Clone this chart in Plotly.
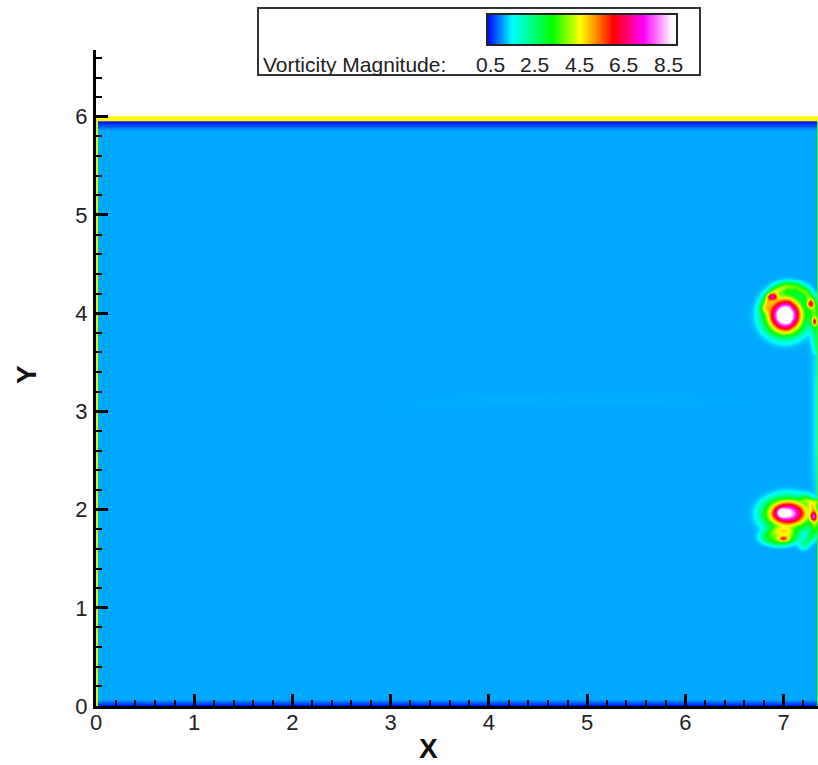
import numpy as np
import plotly.graph_objects as go

# ---- colour map (Vorticity Magnitude) ----
legend_ticks = [0.5, 2.5, 4.5, 6.5, 8.5]
legend_range = [0.365, 8.9]
color_levels = [0.365, 1.49, 3.29, 4.55, 5.3, 6.03, 7.38, 8.68, 8.9]
color_values = ["rgb(0,0,255)", "rgb(0,255,255)", "rgb(0,255,0)", "rgb(255,255,0)",
                "rgb(255,128,0)", "rgb(255,0,0)", "rgb(255,0,255)",
                "rgb(255,255,255)", "rgb(255,255,255)"]

# ---- flow domain and wall levels ----
x_extent = [0.0, 7.35]
y_extent = [0.0, 6.0]
grid_step = 0.01
background_level = 1.106
wall_low_level = 0.365
top_wall_level = 4.6
left_wall_level = 4.3
right_edge_level = 3.6

# ---- vortex blobs: centre, amplitude, radii, profile exponent ----
blob_x = [7.01, 7.01, 6.88, 7.27, 7.31, 7.04, 6.97, 7.04, 6.96, 6.99, 7.30, 7.33]
blob_y = [3.985, 3.985, 4.17, 4.10, 3.92, 1.965, 1.97, 1.96, 1.73, 1.71, 1.93, 2.08]
blob_amp = [7.0, 2.8, 2.8, 2.8, 3.0, 5.2, 2.5, 2.6, 2.5, 2.2, 3.0, 2.0]
blob_sx = [0.13, 0.25, 0.045, 0.035, 0.025, 0.16, 0.045, 0.28, 0.19, 0.05, 0.03, 0.025]
blob_sy = [0.13, 0.25, 0.03, 0.04, 0.04, 0.10, 0.045, 0.2, 0.09, 0.025, 0.04, 0.03]
blob_pow = [2, 4, 2, 2, 2, 2, 2, 4, 4, 2, 2, 2]

# ---- shear-layer filaments (polylines with strength along the path) ----
arc_top_x = [6.80, 6.84, 6.92, 7.02, 7.13, 7.22, 7.28, 7.31, 7.32, 7.33, 7.34]
arc_top_y = [4.06, 4.16, 4.24, 4.28, 4.27, 4.22, 4.14, 4.03, 3.92, 3.80, 3.65]
arc_top_amp = [1.6, 2.1, 2.3, 2.3, 2.3, 2.4, 2.4, 2.4, 2.1, 1.5, 0.8]
arc_top_width = 0.05

arc_bot_x = [7.22, 7.28, 7.31, 7.32, 7.31, 7.27, 7.20]
arc_bot_y = [2.12, 2.08, 2.00, 1.90, 1.80, 1.72, 1.65]
arc_bot_amp = [1.6, 2.3, 2.5, 2.5, 2.1, 1.6, 1.1]
arc_bot_width = 0.045

edge_glow_x = [7.35, 7.35, 7.35, 7.35]
edge_glow_y = [3.75, 3.3, 2.6, 2.15]
edge_glow_amp = [0.2, 0.4, 0.4, 0.2]
edge_glow_width = 0.06

streak_x = [2.5, 4.0, 5.5, 7.0]
streak_y = [3.0, 3.12, 3.15, 3.05]
streak_amp = [0.0, 0.03, 0.03, 0.0]
streak_width = 0.08


def polyline_field(X, Y, px, py, pa, w):
    out = np.zeros_like(X)
    for i in range(len(px) - 1):
        x0, y0, x1, y1 = px[i], py[i], px[i + 1], py[i + 1]
        vx, vy = x1 - x0, y1 - y0
        L2 = vx * vx + vy * vy
        t = np.clip(((X - x0) * vx + (Y - y0) * vy) / L2, 0, 1)
        d2 = (X - (x0 + t * vx)) ** 2 + (Y - (y0 + t * vy)) ** 2
        amp = pa[i] + t * (pa[i + 1] - pa[i])
        out = np.maximum(out, amp * np.exp(-d2 / w ** 2))
    return out


xs = np.round(np.arange(x_extent[0], x_extent[1] + grid_step / 2, grid_step), 4)
ys = np.round(np.arange(y_extent[0], y_extent[1] + grid_step / 2, grid_step), 4)
X, Y = np.meshgrid(xs, ys)

Z = np.full_like(X, background_level)
for bx, by, ba, sx, sy, p in zip(blob_x, blob_y, blob_amp, blob_sx, blob_sy, blob_pow):
    r2 = ((X - bx) / sx) ** 2 + ((Y - by) / sy) ** 2
    Z += ba * np.exp(-r2 ** (p / 2))
Z += polyline_field(X, Y, arc_top_x, arc_top_y, arc_top_amp, arc_top_width)
Z += polyline_field(X, Y, arc_bot_x, arc_bot_y, arc_bot_amp, arc_bot_width)
Z += polyline_field(X, Y, edge_glow_x, edge_glow_y, edge_glow_amp, edge_glow_width)
Z += polyline_field(X, Y, streak_x, streak_y, streak_amp, streak_width)

# boundary layers
bottom = Y < 0.07
Z[bottom] = np.minimum(Z[bottom], wall_low_level + (background_level - wall_low_level) * (Y[bottom] / 0.07))
upper = (Y > 5.86) & (Y < 5.955)
Z[upper] = wall_low_level + (background_level - wall_low_level) * ((5.955 - Y[upper]) / 0.095)
Z[X >= 7.335] = np.maximum(Z[X >= 7.335], right_edge_level)
Z[X <= 0.015] = left_wall_level
Z[Y >= 5.955] = top_wall_level
Z = np.round(Z, 3)

span = legend_range[1] - legend_range[0]
colorscale = [[(v - legend_range[0]) / span, c] for v, c in zip(color_levels, color_values)]

fig = go.Figure()
fig.add_trace(go.Heatmap(
    x=xs, y=ys, z=Z, colorscale=colorscale, zmin=legend_range[0], zmax=legend_range[1],
    zsmooth="best", showscale=False, hoverinfo="skip", xaxis="x", yaxis="y"))

# legend colour bar
bar_vals = np.linspace(legend_range[0], legend_range[1], 400)
fig.add_trace(go.Heatmap(
    x=bar_vals, y=[0.25, 0.75], z=[bar_vals, bar_vals], colorscale=colorscale,
    zmin=legend_range[0], zmax=legend_range[1], zsmooth="best", showscale=False,
    hoverinfo="skip", xaxis="x2", yaxis="y2"))

W, H = 818, 765
ml, mr, mt, mb = 96, 0, 0, 59
pw, ph = W - ml - mr, H - mt - mb


def px_x(p):
    return (p - ml) / pw


def px_y(p):
    return (H - mb - p) / ph


tick_font = dict(family="Liberation Sans, Arial, sans-serif", size=22, color="#222")
axis_common = dict(
    showline=True, linewidth=3, linecolor="black", mirror=False, showgrid=False, zeroline=False,
    ticks="inside", ticklen=12, tickwidth=3, tickcolor="black", tickfont=tick_font,
    minor=dict(ticks="inside", dtick=0.2, ticklen=6, tickwidth=2, tickcolor="black", showgrid=False),
)

fig.update_layout(
    width=W, height=H, margin=dict(l=ml, r=mr, t=mt, b=mb),
    paper_bgcolor="white", plot_bgcolor="rgba(0,0,0,0)", showlegend=False,
    xaxis=dict(range=[0, 7.35], domain=[0, 1], tickvals=list(range(0, 8)), anchor="y",
               ticklabelstandoff=-5, **axis_common),
    yaxis=dict(range=[0, 6.68], domain=[0, px_y(50)], tickvals=list(range(0, 7)), anchor="x",
               ticklabelstandoff=1, **axis_common),
    xaxis2=dict(domain=[px_x(487), px_x(677)], range=legend_range, anchor="y2",
                visible=False, fixedrange=True),
    yaxis2=dict(domain=[px_y(45), px_y(14)], range=[0, 1], anchor="x2",
                visible=False, fixedrange=True),
)

# legend frame and bar outline
fig.add_shape(type="rect", xref="paper", yref="paper",
              x0=px_x(258), x1=px_x(700), y0=px_y(75), y1=px_y(8),
              line=dict(color="#333", width=2), layer="above")
fig.add_shape(type="rect", xref="x2 domain", yref="y2 domain", x0=0, x1=1, y0=0, y1=1,
              line=dict(color="#222", width=2), layer="above")

legend_font = dict(family="Liberation Sans, Arial, sans-serif", size=21, color="#222")
fig.add_annotation(text="Vorticity Magnitude:", xref="paper", yref="paper",
                   x=px_x(261), y=px_y(64), xanchor="left", yanchor="middle",
                   showarrow=False, font=legend_font)
for t in legend_ticks:
    fig.add_annotation(text=f"{t:.1f}", xref="x2", yref="paper", x=t, y=px_y(64),
                       xanchor="center", yanchor="middle", showarrow=False, font=legend_font)

title_font = dict(family="Liberation Sans, Arial, sans-serif", size=28, color="#111")
fig.add_annotation(text="<b>X</b>", xref="paper", yref="paper", x=px_x(428), y=px_y(749),
                   xanchor="center", yanchor="middle", showarrow=False, font=title_font)
fig.add_annotation(text="<b>Y</b>", xref="paper", yref="paper", x=px_x(26), y=px_y(375),
                   xanchor="center", yanchor="middle", showarrow=False, font=title_font,
                   textangle=-90)

fig.write_html("out.html")
